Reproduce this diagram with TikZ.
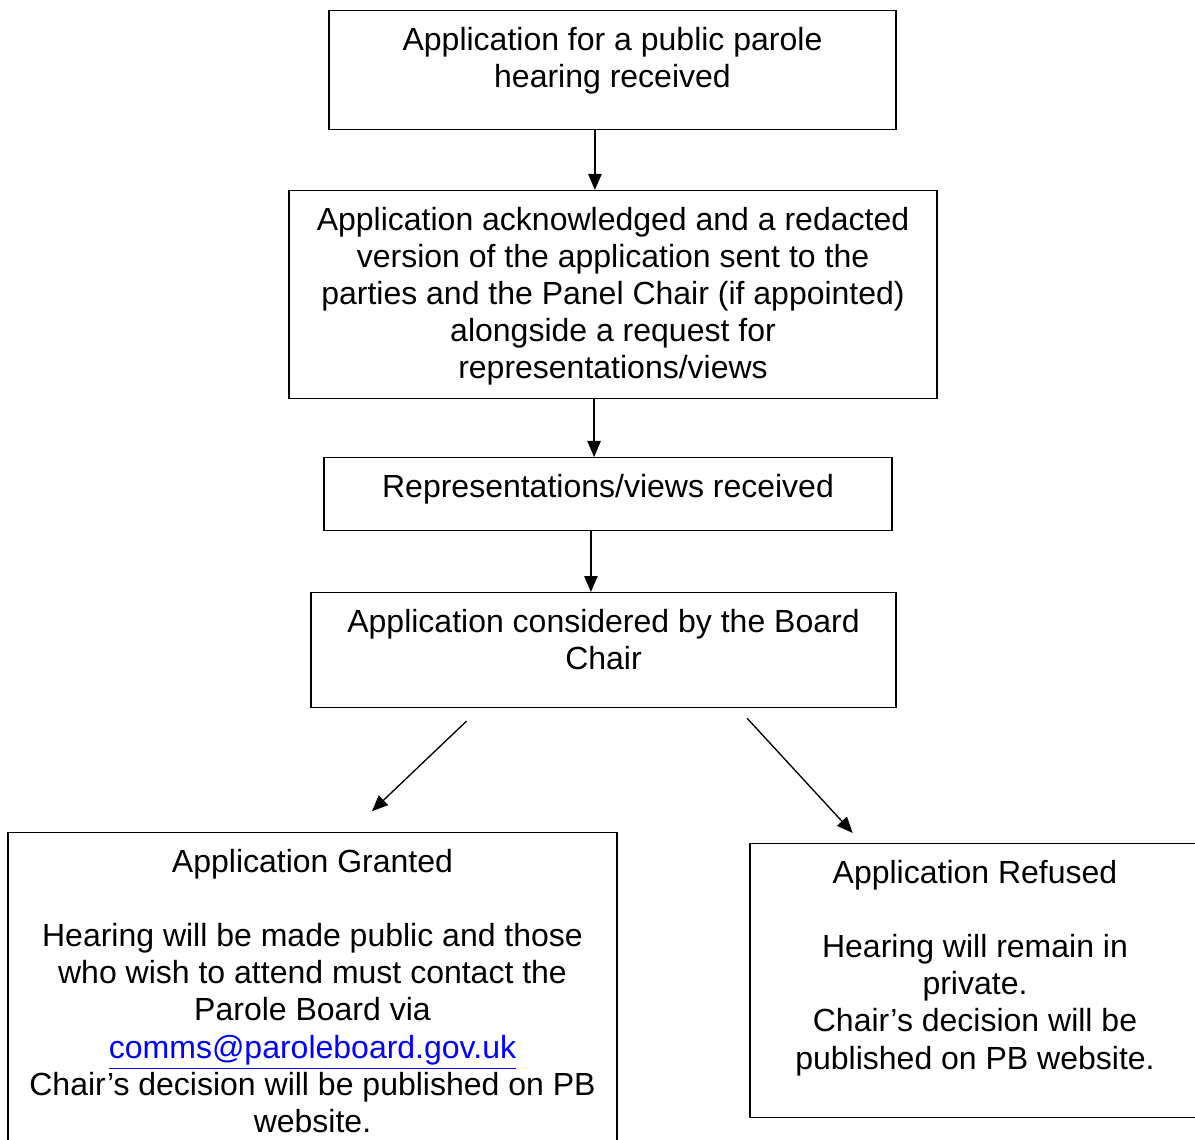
\documentclass[tikz,border=0pt]{standalone}
\usepackage{fontspec}
\setmainfont{Liberation Sans}
\usetikzlibrary{arrows.meta}
\newcommand{\boxlines}[3]{\parbox[c][#2][t]{#1}{\centering\rule{0pt}{15pt}#3}}
\tikzset{
  stage/.style={draw, line width=0.5pt, inner sep=0pt, anchor=north, font=\fontsize{12}{13.9}\selectfont},
  flow/.style={->, line width=0.5pt},
  >={Triangle[length=6pt, width=5pt]}
}
\begin{document}
\begin{tikzpicture}[x=0.375pt, y=-0.375pt]
\clip (0,0) rectangle (1195,1140);
\node[stage] (received) at (612.5,10) {\boxlines{212.6pt}{44.6pt}{Application for a public parole\\hearing received}};
\node[stage] (ack) at (613,190) {\boxlines{243pt}{78pt}{Application acknowledged and a redacted\\version of the application sent to the\\parties and the Panel Chair (if appointed)\\alongside a request for\\representations/views}};
\node[stage] (views) at (608,457) {\boxlines{213pt}{27.4pt}{Representations/views received}};
\node[stage] (chair) at (603.5,592) {\boxlines{219.4pt}{43.1pt}{Application considered by the Board\\Chair}};
\node[stage] (granted) at (312.5,832) {\boxlines{228.4pt}{125pt}{Application Granted\\[\baselineskip]Hearing will be made public and those\\who wish to attend must contact the\\Parole Board via\\\smash{\textcolor{blue}{\underline{comms@paroleboard.gov.uk}}}\\Chair’s decision will be published on PB\\website.}};
\node[stage] (refused) at (975,843) {\boxlines{168.75pt}{102.75pt}{Application Refused\\[\baselineskip]Hearing will remain in\\private.\\Chair’s decision will be\\published on PB website.}};
\draw[flow] ([xshift=-6.6pt]received.south) -- ([xshift=-6.6pt]received.south |- ack.north);
\draw[flow] ([xshift=-7.1pt]ack.south) -- ([xshift=-7.1pt]ack.south |- views.north);
\draw[flow] ([xshift=-6.4pt]views.south) -- ([xshift=-6.4pt]views.south |- chair.north);
\draw[flow, shorten <=7pt, shorten >=11.3pt] ([xshift=-46.3pt]chair.south) -- ([xshift=14.1pt]granted.north);
\draw[flow, shorten <=5.1pt, shorten >=5.1pt] ([xshift=50.4pt]chair.south) -- ([xshift=-42.4pt]refused.north);
\end{tikzpicture}
\end{document}
